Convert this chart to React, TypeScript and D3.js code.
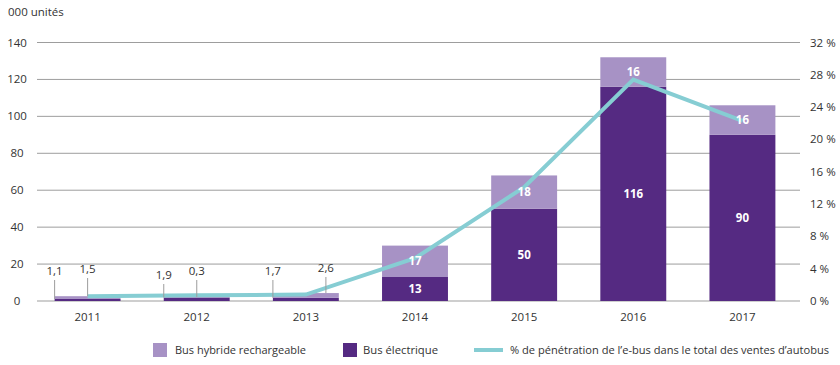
import React from 'react';
import * as d3 from 'd3';

// Chart data
const years = ['2011', '2012', '2013', '2014', '2015', '2016', '2017'];
const electricBus = [1.1, 1.9, 1.7, 13, 50, 116, 90];
const hybridBus = [1.5, 0.3, 2.6, 17, 18, 16, 16];
const penetration = [0.6, 0.7, 0.8, 5.3, 14.1, 27.4, 22.3];
const leftTicks = [0, 20, 40, 60, 80, 100, 120, 140];
const rightTicks = [0, 4, 8, 12, 16, 20, 24, 28, 32];

const fmt = (v: number) => String(v).replace('.', ',');

const W = 840;
const H = 365;
const margin = { top: 42.5, right: 40, bottom: 64, left: 37 };
const LIGHT = '#a792c5';
const DARK = '#552a82';
const TEAL = '#86cdd3';
const GRID = '#9d9d9d';
const TXT = '#333333';
const FONT = '"Open Sans", sans-serif';

// small values get callouts instead of in-bar labels (offsets from bar left)
const calloutDx = [
  [0, 33],
  [0, 33],
  [0, 53],
];
const calloutDy = [
  [-26, -28],
  [-22, -26],
  [-26, -29],
];

const App: React.FC = () => {
  const x = d3.scaleBand().domain(years).range([33, 797]).paddingInner(0.396).paddingOuter(0.198);
  const y = d3.scaleLinear().domain([0, 140]).range([H - margin.bottom, margin.top]);
  const yR = d3.scaleLinear().domain([0, 32]).range([H - margin.bottom, margin.top]);
  const bw = x.bandwidth();

  const line = d3.line<number>()
    .x((_, i) => (x(years[i]) || 0) + bw / 2)
    .y(d => yR(d));

  return <svg width={W} height={H} style={{ position: 'absolute', left: 0, top: 0 }} fontFamily={FONT}>
      <text x={8} y={16} fontSize={11.5} fill={TXT}>000 unités</text>
      {leftTicks.map(t => <g key={t}>
          <line x1={margin.left} x2={W - margin.right} y1={y(t)} y2={y(t)} stroke={GRID} strokeWidth={1} />
          <text x={17} y={y(t) + 4} fontSize={11.5} fill={TXT} textAnchor="middle">{t}</text>
        </g>)}
      {rightTicks.map(t => <text key={t} x={810} y={yR(t) + 4} fontSize={11.5} fill={TXT}>{t} %</text>)}
      {years.map((yr, i) => {
      const x0 = x(yr) || 0;
      const e = electricBus[i];
      const h = hybridBus[i];
      return <g key={yr}>
            <rect x={x0} width={bw} y={y(e)} height={y(0) - y(e)} fill={DARK} />
            <rect x={x0} width={bw} y={y(e + h)} height={y(e) - y(e + h)} fill={LIGHT} />
            <text x={x0 + bw / 2} y={H - margin.bottom + 20} fontSize={11.5} fill={TXT} textAnchor="middle">{yr}</text>
          </g>;
    })}
      <path d={line(penetration) || ''} fill="none" stroke={TEAL} strokeWidth={4} strokeLinejoin="miter" />
      {years.map((yr, i) => {
      const x0 = x(yr) || 0;
      const e = electricBus[i];
      const h = hybridBus[i];
      if (i < 3) {
        const vals = [e, h];
        const tops = [y(e), y(e + h)];
        return <g key={yr}>
              {vals.map((v, k) => {
            const lx = x0 + calloutDx[i][k];
            const ly = y(0) + calloutDy[i][k];
            return <g key={k}>
                    <line x1={lx} x2={lx} y1={ly + 5} y2={tops[k]} stroke={GRID} strokeWidth={1} />
                    <text x={lx} y={ly} fontSize={11.5} fill={TXT} textAnchor="middle">{fmt(v)}</text>
                  </g>;
          })}
            </g>;
      }
      return <g key={yr} fontWeight="bold" fontSize={11.5} fill="#ffffff" textAnchor="middle">
            <text x={x0 + bw / 2} y={(y(0) + y(e)) / 2 + 4}>{fmt(e)}</text>
            <text x={x0 + bw / 2} y={(y(e) + y(e + h)) / 2 + 4}>{fmt(h)}</text>
          </g>;
    })}
      <g fontSize={11.5} fill={TXT}>
        <rect x={153} y={343} width={14} height={14} fill={LIGHT} />
        <text x={175} y={354} textLength={131} lengthAdjust="spacingAndGlyphs">Bus hybride rechargeable</text>
        <rect x={343} y={343} width={14} height={14} fill={DARK} />
        <text x={363} y={354} textLength={75} lengthAdjust="spacingAndGlyphs">Bus électrique</text>
        <line x1={474} x2={503} y1={350} y2={350} stroke={TEAL} strokeWidth={4} />
        <text x={510} y={354} textLength={319} lengthAdjust="spacingAndGlyphs">% de pénétration de l’e-bus dans le total des ventes d’autobus</text>
      </g>
    </svg>;
};

export default App;
